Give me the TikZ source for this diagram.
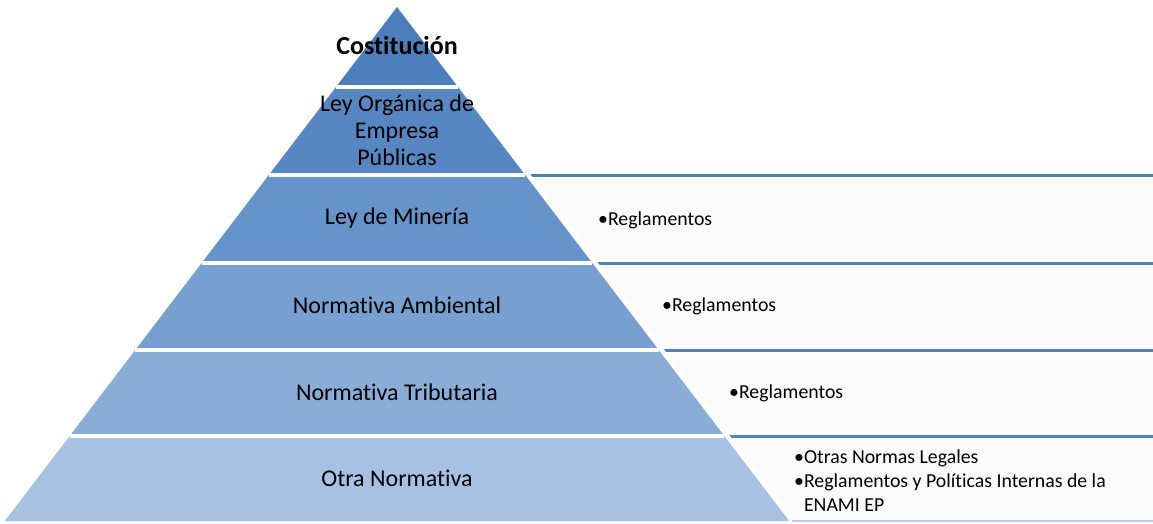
\documentclass[tikz,border=0pt]{standalone}
\usepackage{fontspec}
\setmainfont{Carlito}[Ligatures=NoCommon]
\definecolor{tA}{HTML}{4D7EBC}
\definecolor{tB}{HTML}{5787C2}
\definecolor{tC}{HTML}{6693C9}
\definecolor{tD}{HTML}{779FCF}
\definecolor{tE}{HTML}{89ADD7}
\definecolor{tF}{HTML}{A7C1E2}
\definecolor{boxblue}{HTML}{4F81BD}
\definecolor{boxlight}{HTML}{B8CCE4}
\definecolor{boxfill}{HTML}{FBFBFB}
\begin{document}
\begin{tikzpicture}[x=1pt,y=-1pt,
  boxline/.style={draw=boxblue, line width=3pt},
  sep/.style={draw=white, line width=4pt},
  tiertext/.style={font=\fontsize{24}{27}\selectfont, align=center, inner sep=0pt},
  toptext/.style={font=\bfseries\fontsize{26}{27}\selectfont, inner sep=0pt},
  bultext/.style={font=\fontsize{19.8}{24}\selectfont, align=left, anchor=west, inner sep=0pt}]
\useasboundingbox (0,0) rectangle (1153,523);
\fill[white] (0,0) rectangle (1153,523);
% corner coordinates of the pyramid
\coordinate (apex) at (397,7);
\coordinate (l1) at (336.0,87);  \coordinate (r1) at (458.0,87);
\coordinate (l2) at (268.8,175); \coordinate (r2) at (525.2,175);
\coordinate (l3) at (201.7,263); \coordinate (r3) at (592.3,263);
\coordinate (l4) at (135.3,350); \coordinate (r4) at (658.7,350);
\coordinate (l5) at (69.7,436);  \coordinate (r5) at (724.3,436);
\coordinate (l6) at (4.8,521);   \coordinate (r6) at (789.2,521);
% right-hand boxes
\fill[boxfill] (397,175) rectangle (1153,521);
\draw[boxlight, line width=1.5pt] (792,521) -- (1153,521);
\draw[boxline] (397,175) -- (1153,175);
\draw[boxline] (397,263) -- (1153,263);
\draw[boxline] (397,350) -- (1153,350);
\draw[boxline] (397,436) -- (1153,436);
% white gap along the right edge
\draw[white, line width=9pt] (apex) -- (r6);
% tiers
\fill[tA] (apex) -- (r1) -- (l1) -- cycle;
\fill[tB] (l1) -- (r1) -- (r2) -- (l2) -- cycle;
\fill[tC] (l2) -- (r2) -- (r3) -- (l3) -- cycle;
\fill[tD] (l3) -- (r3) -- (r4) -- (l4) -- cycle;
\fill[tE] (l4) -- (r4) -- (r5) -- (l5) -- cycle;
\fill[tF] (l5) -- (r5) -- (r6) -- (l6) -- cycle;
% separators
\draw[sep] (l1) -- (r1);
\draw[sep] (l2) -- (r2);
\draw[sep] (l3) -- (r3);
\draw[sep] (l4) -- (r4);
\draw[sep] (l5) -- (r5);
% tier texts
\node[toptext] (t1) at (397,45) {Costitución};
\node[tiertext] (t2) at (397,130) {Ley Orgánica de\\Empresa\\Públicas};
\node[tiertext] (t3) at (397,218) {Ley de Minería};
\node[tiertext] (t4) at (397,305) {Normativa Ambiental};
\node[tiertext] (t5) at (397,392) {Normativa Tributaria};
\node[tiertext] (t6) at (397,478) {Otra Normativa};
% box texts
\node[bultext] (b3) at (598,220) {•Reglamentos};
\node[bultext] (b4) at (662,306) {•Reglamentos};
\node[bultext] (b5) at (729,393) {•Reglamentos};
\node[bultext] (b6) at (794,481) {•Otras Normas Legales\\•Reglamentos y Políticas Internas de la\\\hphantom{•}ENAMI EP};
\end{tikzpicture}
\end{document}
